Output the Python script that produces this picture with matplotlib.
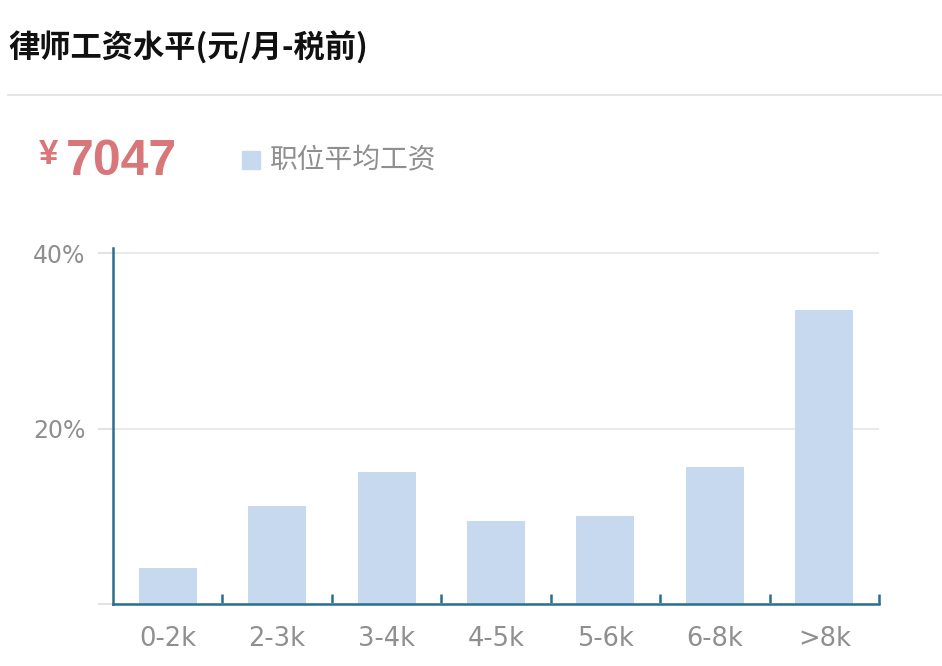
import matplotlib
matplotlib.use('Agg')
import matplotlib.pyplot as plt
import numpy as np

plt.rcParams['font.family'] = ['Noto Sans CJK SC', 'DejaVu Sans']

categories = ['0-2k', '2-3k', '3-4k', '4-5k', '5-6k', '6-8k', '>8k']
shares = [4.1, 11.2, 15.0, 9.5, 10.0, 15.6, 33.5]
yticks = [0, 20, 40]
ytick_labels = ['', '20%', '40%']
title = '律师工资水平(元/月-税前)'
avg_salary = '7047'
legend_label = '职位平均工资'

bar_color = '#c6d9ee'
axis_color = '#2b6e8e'
label_gray = '#8f8f8f'
red = '#d97679'

fig = plt.figure(figsize=(9.42, 6.66), dpi=100)
fig.patch.set_facecolor('white')

# header
fig.text(8 / 942, 1 - 48 / 666, title, fontsize=22.5, fontweight='bold',
         color='#111111', va='center', ha='left')
fig.add_artist(plt.Line2D([8 / 942, 1.0], [1 - 95 / 666] * 2,
                          color='#e2e2e2', linewidth=1.2))
fig.text(39 / 942, 1 - 154 / 666, '¥', fontsize=25, fontweight='bold',
         color=red, va='center', ha='left', family=['Liberation Sans'])
fig.text(66 / 942, 1 - 162 / 666, avg_salary, fontsize=36, fontweight='bold',
         color=red, va='center', ha='left', family=['Liberation Sans'])
fig.add_artist(plt.Rectangle((242 / 942, 1 - 169 / 666), 18 / 942, 18 / 666,
                             color=bar_color, transform=fig.transFigure))
fig.text(270 / 942, 1 - 160 / 666, legend_label, fontsize=20,
         color=label_gray, va='center', ha='left')

ax = fig.add_axes([113 / 942, 1 - 604 / 666, 766 / 942, 356 / 666])
x = np.arange(len(categories))
ax.bar(x, shares, width=0.53, color=bar_color, zorder=2)

ax.set_xlim(-0.5, len(categories) - 0.5)
ax.set_ylim(0, 40.6)
ax.set_yticks(yticks)
ax.set_yticklabels(ytick_labels)
ax.set_xticks(x)
ax.set_xticklabels(categories)
ax.set_xticks(np.arange(len(categories)) + 0.5, minor=True)

ax.grid(axis='y', color='#e6e6e6', linewidth=1.2, zorder=0)
for side in ['top', 'right']:
    ax.spines[side].set_visible(False)
for side in ['left', 'bottom']:
    ax.spines[side].set_color(axis_color)
    ax.spines[side].set_linewidth(1.8)

ax.tick_params(axis='y', length=11, color='#dddddd', width=1.2,
               labelsize=17, labelcolor=label_gray, pad=9)
ax.tick_params(axis='x', which='major', length=0, labelsize=18.5,
               labelcolor=label_gray, pad=16)
ax.tick_params(axis='x', which='minor', direction='in', length=7,
               color=axis_color, width=1.8)
for lbl in ax.get_xticklabels() + ax.get_yticklabels():
    lbl.set_family(['DejaVu Sans'])

fig.savefig('out.png', dpi=100, facecolor='white')
